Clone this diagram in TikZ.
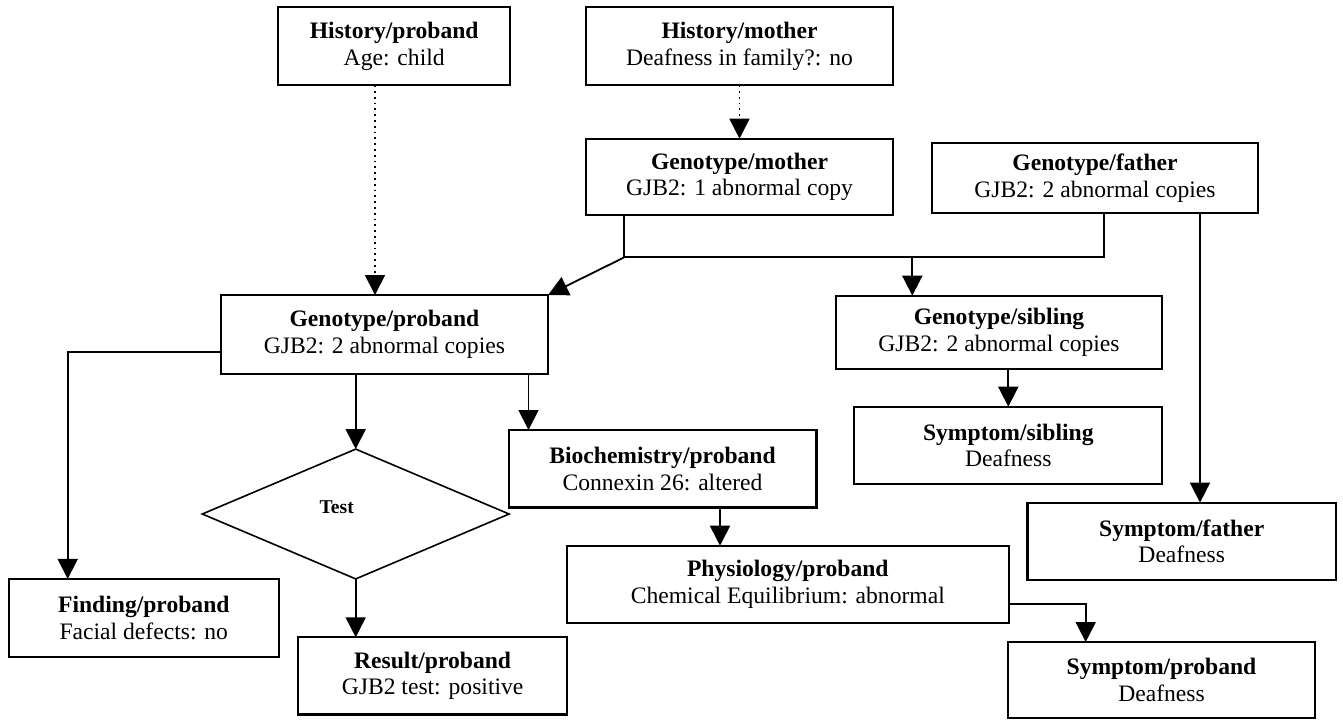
\documentclass[tikz,border=0pt]{standalone}
\usepackage{fontspec}
\setmainfont{Liberation Serif}
\usetikzlibrary{calc,arrows.meta,shapes.geometric}

\tikzset{
  box/.style={draw, line width=1.1pt, align=center, inner sep=0pt, outer sep=0pt,
    font=\fontsize{11.8}{13.3}\selectfont},
  link/.style={->, line width=0.9pt},
}

\begin{document}
\begin{tikzpicture}[x=0.5pt,y=-0.5pt,>={Triangle[width=10pt,length=10pt]}]
    \useasboundingbox (0,0) rectangle (1343,719);

    % History
    \node[box, minimum width=115.9pt, minimum height=38.9pt] (hproband) at (394.2,46.2) {\textbf{History/proband}\\Age: child};
    \node[box, minimum width=153.8pt, minimum height=38.9pt] (hmother) at (739.5,46.2) {\textbf{History/mother}\\Deafness in family?: no};

    % Genotypes
    \node[box, minimum width=153.8pt, minimum height=38.2pt] (gmother) at (739.5,176.9) {\textbf{Genotype/mother}\\GJB2: 1 abnormal copy};
    \node[box, minimum width=163.3pt, minimum height=35.3pt] (gfather) at (1095,178) {\textbf{Genotype/father}\\GJB2: 2 abnormal copies};
    \node[box, minimum width=163.7pt, minimum height=39.3pt] (gproband) at (384.4,334.3) {\textbf{Genotype/proband}\\GJB2: 2 abnormal copies};
    \node[box, minimum width=163.3pt, minimum height=36.7pt] (gsibling) at (999,332.4) {\textbf{Genotype/sibling}\\GJB2: 2 abnormal copies};

    % Test
    \node[draw, shape=diamond, line width=0.8pt, inner sep=0pt, outer sep=0pt,
      minimum width=153.4pt, minimum height=64.9pt] (test) at (355.7,514) {};
    \node[font=\fontsize{9.8}{11}\selectfont\bfseries] (testlbl) at (336.7,507) {Test};

    % Proband and family
    \node[box, minimum width=154pt, minimum height=38.7pt] (ssibling) at (1008.3,445.4) {\textbf{Symptom/sibling}\\Deafness};
    \node[box, minimum width=153.9pt, minimum height=38.7pt] (bioch) at (662.5,468.7) {\textbf{Biochemistry/proband}\\Connexin 26: altered};
    \node[box, minimum width=154.3pt, minimum height=38.7pt] (sfather) at (1181.7,541.3) {\textbf{Symptom/father}\\Deafness};
    \node[box, minimum width=221.2pt, minimum height=38.5pt] (physio) at (787.8,584.2) {\textbf{Physiology/proband}\\Chemical Equilibrium: abnormal};
    \node[box, minimum width=134.8pt, minimum height=38.9pt] (finding) at (143.8,617.8) {\textbf{Finding/proband}\\Facial defects: no};
    \node[box, minimum width=134.7pt, minimum height=38.6pt] (result) at (432.6,675.9) {\textbf{Result/proband}\\GJB2 test: positive};
    \node[box, minimum width=153.5pt, minimum height=38pt] (sproband) at (1161.5,680) {\textbf{Symptom/proband}\\Deafness};

    % Junctions
    \coordinate (jm) at (624.3,257.3);
    \coordinate (jf) at (1104.3,257.3);
    \coordinate (js) at (912.3,257.3);
    \coordinate (fl) at (67.7,352.3);
    \coordinate (ph) at (1085.7,604);

    % Dotted links
    \draw[link, dotted] ($(hproband.south)+(-19.2,0)$) coordinate (d1) -- (d1 |- gproband.north);
    \draw[link, dotted] (hmother.south) -- (gmother.north);

    % Parents to children
    \draw[line width=0.9pt] (gmother.south -| jm) -- (jm) -- (jf) -- (gfather.south -| jf);
    \draw[link] (jm) -- (gproband.north east);
    \draw[link] (js) -- (js |- gsibling.north);
    \draw[link] ($(gfather.south)+(105,0)$) coordinate (f1) -- (f1 |- sfather.north);

    % From genotype/proband
    \draw[link] (gproband.west |- fl) -- (fl) -- (fl |- finding.north);
    \draw[link] (gproband.south -| test.north) -- (test.north);
    \draw[link] ($(gproband.south)+(144.1,0)$) coordinate (b1) -- (b1 |- bioch.north);

    % Downstream
    \draw[link] (gsibling.south -| ssibling.north) -- (ssibling.north);
    \draw[link] ($(bioch.south)+(57.5,0)$) coordinate (p1) -- (p1 |- physio.north);
    \draw[link] (test.south) -- (test.south |- result.north);
    \draw[link] (physio.east |- ph) -- (ph) -- (ph |- sproband.north);
\end{tikzpicture}
\end{document}
